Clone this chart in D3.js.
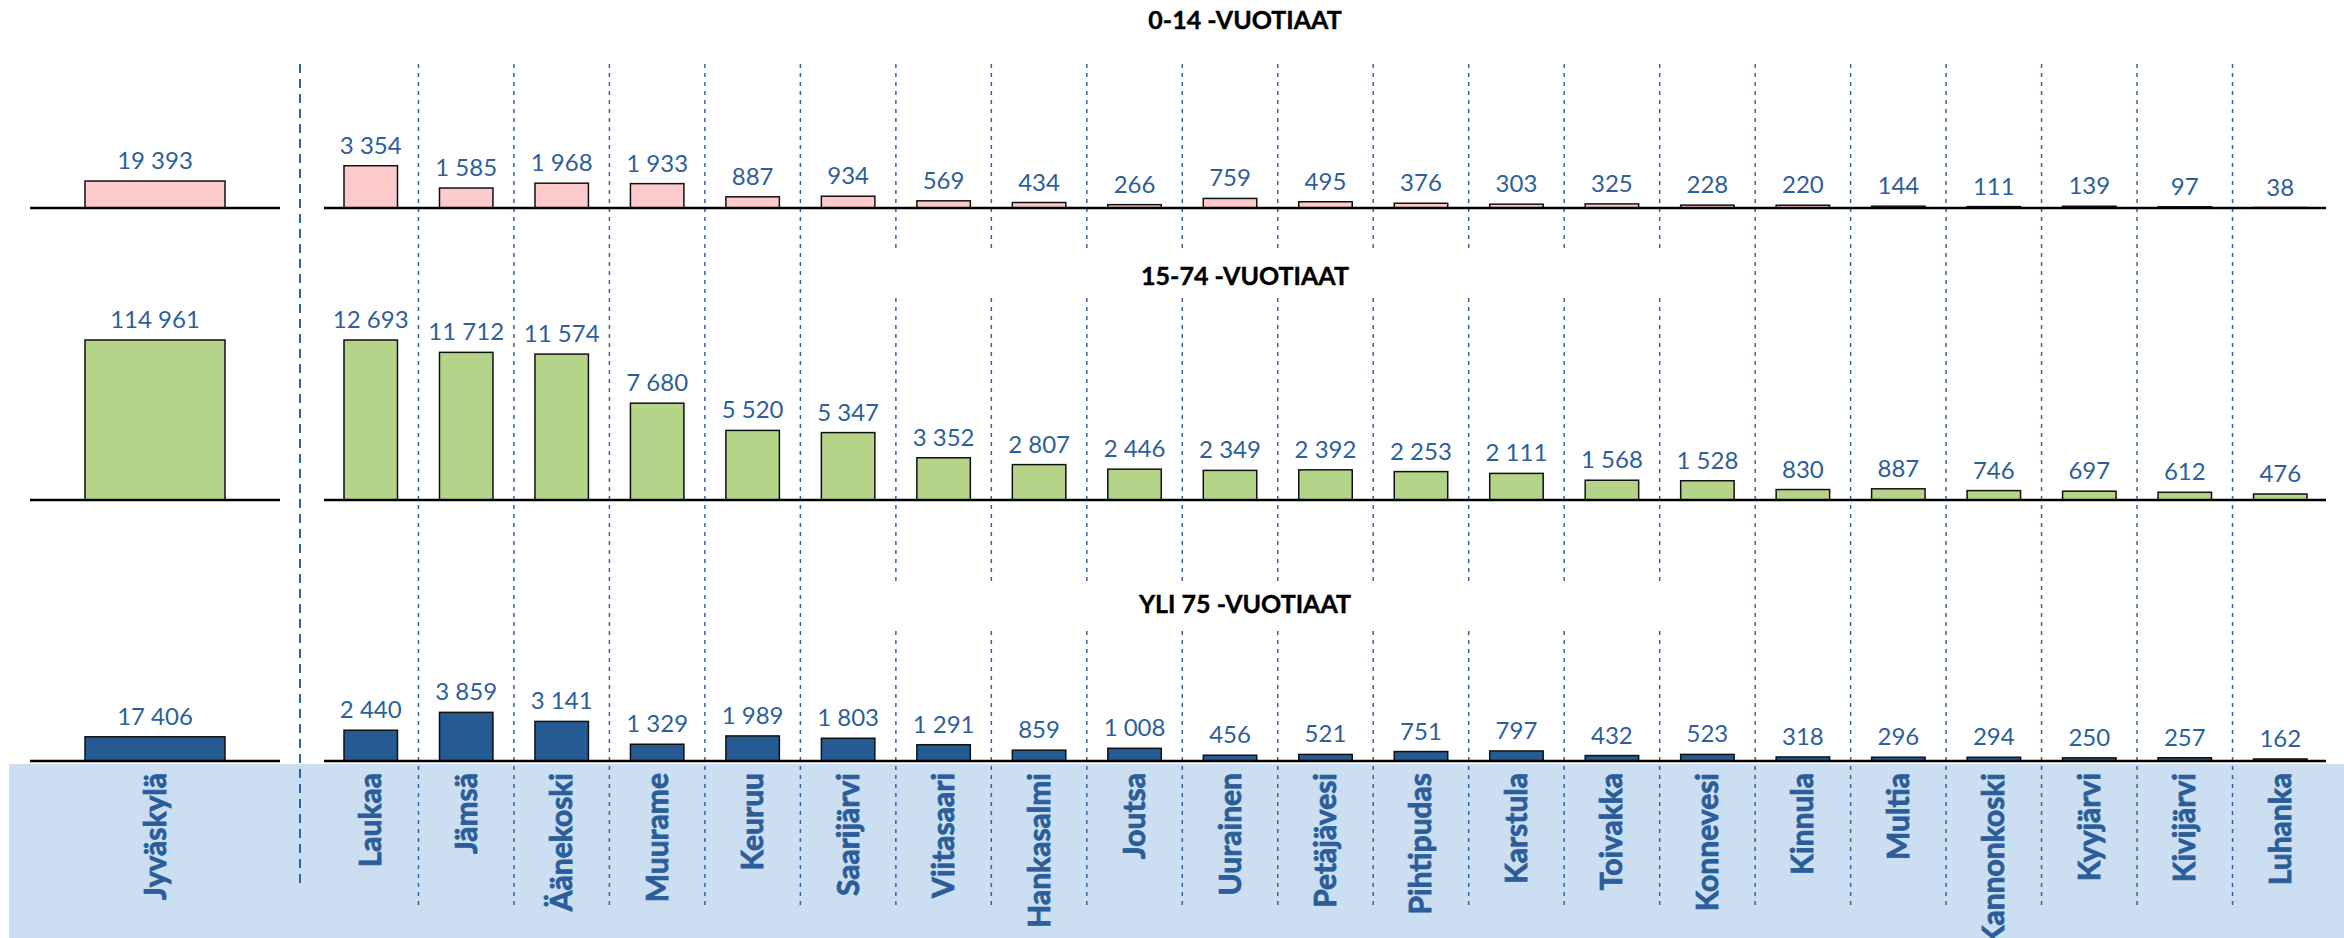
<!DOCTYPE html>
<html lang="fi">
<head>
    <meta charset="UTF-8">
    <title>Väestö ikäryhmittäin</title>
    <script src="https://d3js.org/d3.v7.min.js"></script>
    <style>
        body {
            margin: 0;
            padding: 0;
            background-color: #ffffff;
        }
        svg {
            display: block;
        }
    </style>
</head>
<body>
    <svg id="chart"></svg>

    <script>
        // municipalities: the big one on the left, the rest on the right
        const leftCategories = ["Jyväskylä"];
        const rightCategories = ["Laukaa", "Jämsä", "Äänekoski", "Muurame", "Keuruu", "Saarijärvi",
            "Viitasaari", "Hankasalmi", "Joutsa", "Uurainen", "Petäjävesi", "Pihtipudas", "Karstula",
            "Toivakka", "Konnevesi", "Kinnula", "Multia", "Kannonkoski", "Kyyjärvi", "Kivijärvi", "Luhanka"];

        const groupTitles = ["0-14 -VUOTIAAT", "15-74 -VUOTIAAT", "YLI 75 -VUOTIAAT"];

        const left0to14 = [19393];
        const right0to14 = [3354, 1585, 1968, 1933, 887, 934, 569, 434, 266, 759, 495, 376, 303, 325, 228, 220, 144, 111, 139, 97, 38];

        const left15to74 = [114961];
        const right15to74 = [12693, 11712, 11574, 7680, 5520, 5347, 3352, 2807, 2446, 2349, 2392, 2253, 2111, 1568, 1528, 830, 887, 746, 697, 612, 476];

        const leftOver75 = [17406];
        const rightOver75 = [2440, 3859, 3141, 1329, 1989, 1803, 1291, 859, 1008, 456, 521, 751, 797, 432, 523, 318, 296, 294, 250, 257, 162];

        const width = 2344;
        const height = 938;
        const barMaxHeight = 160;

        const groups = [
            { title: groupTitles[0], left: left0to14, right: right0to14, fill: "#fdcbcb", base: 208, titleY: 29, gap: null },
            { title: groupTitles[1], left: left15to74, right: right15to74, fill: "#b4d489", base: 500, titleY: 285, gap: [253, 298] },
            { title: groupTitles[2], left: leftOver75, right: rightOver75, fill: "#255a93", base: 761, titleY: 613, gap: [582, 627] }
        ];

        const fi = d3.formatLocale({ decimal: ",", thousands: " ", grouping: [3], currency: ["", ""] });
        const fmt = fi.format(",d");

        const svg = d3.select("#chart")
            .attr("width", width)
            .attr("height", height);

        const xLeft = d3.scaleBand().domain(leftCategories).range([30, 280])
            .paddingInner(0.44).paddingOuter(0.22);
        const xRight = d3.scaleBand().domain(rightCategories).range([323, 2328])
            .paddingInner(0.44).paddingOuter(0.22);

        // each side has its own scale, shared by all three age groups
        const yLeft = d3.scaleLinear()
            .domain([0, d3.max([left0to14, left15to74, leftOver75].flat())])
            .range([0, barMaxHeight]);
        const yRight = d3.scaleLinear()
            .domain([0, d3.max([right0to14, right15to74, rightOver75].flat())])
            .range([0, barMaxHeight]);

        // light blue band behind the category names
        svg.append("rect")
            .attr("x", 9)
            .attr("y", 764)
            .attr("width", width - 9)
            .attr("height", height - 764)
            .attr("fill", "#cbdef2");

        // dashed separators between municipalities
        const stepR = xRight.step();
        const bounds = rightCategories.slice(1).map(c => xRight(c) - stepR * xRight.paddingInner() / 2);

        svg.selectAll("line.sep")
            .data(bounds)
            .enter().append("line")
            .attr("class", "sep")
            .attr("x1", d => d).attr("x2", d => d)
            .attr("y1", 64).attr("y2", 908)
            .attr("stroke", "#2f64a4")
            .attr("stroke-width", 1.5)
            .attr("stroke-dasharray", "4,5");

        svg.append("line")
            .attr("x1", 300).attr("x2", 300)
            .attr("y1", 64).attr("y2", 883)
            .attr("stroke", "#2f64a4")
            .attr("stroke-width", 2)
            .attr("stroke-dasharray", "9,6");

        groups.forEach(g => {
            const grp = svg.append("g");

            // title boxes are white and cover the dashed lines
            if (g.gap) {
                grp.append("rect")
                    .attr("x", 845)
                    .attr("y", g.gap[0])
                    .attr("width", 860)
                    .attr("height", g.gap[1] - g.gap[0])
                    .attr("fill", "#ffffff");
            }

            grp.append("text")
                .attr("x", 1245)
                .attr("y", g.titleY)
                .attr("text-anchor", "middle")
                .style("font-family", "Lato, 'Open Sans', sans-serif")
                .style("font-weight", "bold")
                .style("font-size", "25px")
                .style("fill", "#000000")
                .style("stroke", "#000000")
                .style("stroke-width", 0.4)
                .text(g.title);

            const sides = [
                { x: xLeft, y: yLeft, cats: leftCategories, vals: g.left, x1: 30, x2: 280 },
                { x: xRight, y: yRight, cats: rightCategories, vals: g.right, x1: 324, x2: 2326 }
            ];

            sides.forEach(s => {
                const rows = s.cats.map((c, i) => ({ cat: c, value: s.vals[i] }));

                grp.selectAll(null)
                    .data(rows)
                    .enter().append("rect")
                    .attr("x", d => s.x(d.cat))
                    .attr("y", d => g.base - s.y(d.value))
                    .attr("width", s.x.bandwidth())
                    .attr("height", d => s.y(d.value))
                    .attr("fill", g.fill)
                    .attr("stroke", "#111111")
                    .attr("stroke-width", 1.5);

                grp.append("line")
                    .attr("x1", s.x1).attr("x2", s.x2)
                    .attr("y1", g.base).attr("y2", g.base)
                    .attr("stroke", "#000000")
                    .attr("stroke-width", 2.5);

                grp.selectAll(null)
                    .data(rows)
                    .enter().append("text")
                    .attr("x", d => s.x(d.cat) + s.x.bandwidth() / 2)
                    .attr("y", d => g.base - s.y(d.value) - 12)
                    .attr("text-anchor", "middle")
                    .style("font-family", "Lato, 'Open Sans', sans-serif")
                    .style("font-size", "24px")
                    .style("fill", "#2d5f9a")
                    .text(d => fmt(d.value));
            });
        });

        // category names, rotated, hanging down from the top of the band
        const allCats = leftCategories.map(c => ({ cat: c, cx: xLeft(c) + xLeft.bandwidth() / 2 }))
            .concat(rightCategories.map(c => ({ cat: c, cx: xRight(c) + xRight.bandwidth() / 2 })));

        svg.selectAll("text.cat")
            .data(allCats)
            .enter().append("text")
            .attr("class", "cat")
            .attr("transform", d => `translate(${d.cx + 10.5},773) rotate(-90)`)
            .attr("text-anchor", "end")
            .style("font-family", "Lato, 'Open Sans', sans-serif")
            .style("font-weight", "bold")
            .style("font-size", "30px")
            .style("fill", "#2a5d99")
            .style("stroke", "#2a5d99")
            .style("stroke-width", 0.8)
            .text(d => d.cat);
    </script>
</body>
</html>
